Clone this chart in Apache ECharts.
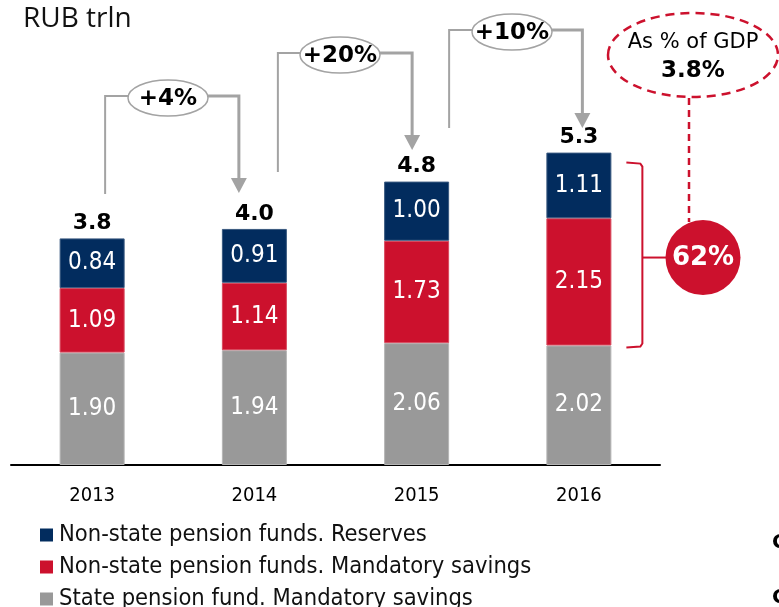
<!DOCTYPE html>
<html>
<head>
<meta charset="utf-8">
<title>Pension savings</title>
<script src="https://cdn.jsdelivr.net/npm/echarts@6/dist/echarts.min.js"></script>
<style>html,body{margin:0;padding:0;background:#fff}#main{width:779px;height:607px}</style>
</head>
<body>
<div id="main"></div>
<script>
// data, RUB trln
var years = ['2013', '2014', '2015', '2016'];
var stateFund = [1.90, 1.94, 2.06, 2.02];
var npfMandatory = [1.09, 1.14, 1.73, 2.15];
var npfReserves = [0.84, 0.91, 1.00, 1.11];
var growth = ['+4%', '+20%', '+10%'];
var seriesNames = ['Non-state pension funds. Reserves', 'Non-state pension funds. Mandatory savings', 'State pension fund. Mandatory savings'];
var gdpShare = '3.8%';
var npfShare = '62%';

var totals = years.map(function (y, i) {
    return +(stateFund[i] + npfMandatory[i] + npfReserves[i]).toFixed(2);
});

var NARROW = 'DejaVu Sans Condensed, DejaVu Sans, sans-serif';
var WIDE = 'DejaVu Sans, sans-serif';
var NAVY = '#022c5e', RED = '#cc112d', GREY = '#999999';

var chart = echarts.init(document.getElementById('main'));

function segLabel() {
    return {show: true, position: 'inside', color: '#fff', fontFamily: NARROW, fontSize: 24,
        formatter: function (p) { return p.value.toFixed(2); }};
}

var option = {
    animation: false,
    title: {text: 'RUB trln', left: 18, top: 0,
        textStyle: {fontFamily: 'Open Sans, sans-serif', fontWeight: 'normal', fontSize: 28, color: '#111'}},
    legend: {
        orient: 'vertical', left: 40, top: 523, height: 120, padding: 0, itemWidth: 13, itemHeight: 13, itemGap: 8,
        icon: 'rect', data: seriesNames, itemStyle: {borderWidth: 0},
        textStyle: {fontFamily: NARROW, fontSize: 23.5, lineHeight: 22, color: '#111', padding: [0, 0, 0, 1]}
    },
    grid: {left: 11, right: 119, top: 110, bottom: 142},
    xAxis: {
        type: 'category', data: years,
        axisLine: {lineStyle: {color: '#000', width: 2}},
        axisTick: {show: false},
        axisLabel: {fontFamily: NARROW, fontSize: 20, color: '#000', margin: 21}
    },
    yAxis: {type: 'value', min: 0, max: 6, show: false, splitLine: {show: false}},
    series: [
        {name: seriesNames[2], type: 'bar', stack: 'a', barWidth: 65, data: stateFund,
            itemStyle: {color: GREY, borderColor: '#b5b5b5', borderWidth: 1}, label: segLabel()},
        {name: seriesNames[1], type: 'bar', stack: 'a', barWidth: 65, data: npfMandatory,
            itemStyle: {color: RED, borderColor: '#d84a5e', borderWidth: 1}, label: segLabel()},
        {name: seriesNames[0], type: 'bar', stack: 'a', barWidth: 65, data: npfReserves,
            itemStyle: {color: NAVY, borderColor: '#3a5a80', borderWidth: 1}, label: segLabel()},
        {name: 'total', type: 'bar', barWidth: 65, barGap: '-100%', data: totals, silent: true, z: 1,
            itemStyle: {color: 'rgba(0,0,0,0)'},
            label: {show: true, position: 'top', distance: 4, color: '#000', fontFamily: WIDE,
                fontWeight: 'bold', fontSize: 22,
                formatter: function (p) { return p.value.toFixed(1); }}}
    ]
};
chart.setOption(option);

// annotations, anchored on the category centres
function cx(i) { return chart.convertToPixel({xAxisIndex: 0}, i); }
function py(v) { return chart.convertToPixel({yAxisIndex: 0}, v); }

var LINE = '#a3a3a3';
// [start offset from left bar, start y, arrow offset from right bar, arrow tip y, bubble y, bubble x]
var arrows = [[13, 194, -15.5, 193, 98, 168], [23.5, 172, -4.5, 150, 55, 340], [32.5, 128, 3.5, 128, 32, 512]];
var els = [];
growth.forEach(function (txt, i) {
    var a = arrows[i];
    var x1 = cx(i) + a[0];
    var x2 = cx(i + 1) + a[2];
    var top = a[4];
    var bx = a[5];
    els.push({type: 'polyline', shape: {points: [[x1, a[1]], [x1, top - 2], [bx - 38, top - 2]]},
        style: {stroke: LINE, lineWidth: 2, fill: null}, z: 10});
    els.push({type: 'polyline', shape: {points: [[bx + 38, top - 2], [x2, top - 2], [x2, a[3] - 14]]},
        style: {stroke: LINE, lineWidth: 3, fill: null}, z: 10});
    els.push({type: 'polygon', shape: {points: [[x2 - 8, a[3] - 15], [x2 + 8, a[3] - 15], [x2, a[3]]]},
        style: {fill: LINE}, z: 10});
    els.push({type: 'ellipse', shape: {cx: bx, cy: top, rx: 40, ry: 18},
        style: {fill: '#fff', stroke: LINE, lineWidth: 1.5}, z: 11});
    els.push({type: 'text', x: bx, y: top + 1, z: 12,
        style: {text: txt, fontFamily: WIDE, fontWeight: 'bold', fontSize: 23, fill: '#000',
            align: 'center', verticalAlign: 'middle'}});
});

// GDP bubble
els.push({type: 'line', shape: {x1: 689, y1: 98, x2: 689, y2: 222},
    style: {stroke: RED, lineWidth: 2.5, lineDash: [7, 5]}, z: 10});
els.push({type: 'ellipse', shape: {cx: 693, cy: 55, rx: 85, ry: 42},
    style: {fill: '#fff', stroke: RED, lineWidth: 2.5, lineDash: [9, 6]}, z: 11});
els.push({type: 'text', x: 693, y: 43, z: 12,
    style: {text: 'As % of GDP', fontFamily: WIDE, fontSize: 21, fill: '#000', align: 'center', verticalAlign: 'middle'}});
els.push({type: 'text', x: 693, y: 71, z: 12,
    style: {text: gdpShare, fontFamily: WIDE, fontWeight: 'bold', fontSize: 23, fill: '#000', align: 'center', verticalAlign: 'middle'}});

// bracket over the 2016 non-state part
var bx0 = cx(3) + 47.5, bx1 = cx(3) + 63.5;
var bTop = py(totals[3]) + 10, bBot = py(stateFund[3]) + 2, bMid = (bTop + bBot) / 2 + 2.5;
els.push({type: 'polyline', shape: {points: [[bx0, bTop], [bx1 - 2, bTop + 1], [bx1, bTop + 4], [bx1, bBot - 4], [bx1 - 2, bBot - 1], [bx0, bBot]]},
    style: {stroke: RED, lineWidth: 2, fill: null}, z: 10});
els.push({type: 'line', shape: {x1: bx1, y1: bMid, x2: bx1 + 25, y2: bMid},
    style: {stroke: RED, lineWidth: 2}, z: 10});
els.push({type: 'circle', shape: {cx: 703, cy: bMid, r: 37.5}, style: {fill: RED}, z: 11});
els.push({type: 'text', x: 703, y: bMid + 1, z: 12,
    style: {text: npfShare, fontFamily: WIDE, fontWeight: 'bold', fontSize: 26, fill: '#fff', align: 'center', verticalAlign: 'middle'}});

// clipped letters at the right edge of the original slide
els.push({type: 'text', x: 772, y: 543, z: 12,
    style: {text: 'C', fontFamily: WIDE, fontWeight: 'bold', fontSize: 20, fill: '#000', verticalAlign: 'middle'}});
els.push({type: 'text', x: 772, y: 598, z: 12,
    style: {text: 'C', fontFamily: WIDE, fontWeight: 'bold', fontSize: 20, fill: '#000', verticalAlign: 'middle'}});

chart.setOption({graphic: {elements: els}});
</script>
</body>
</html>
